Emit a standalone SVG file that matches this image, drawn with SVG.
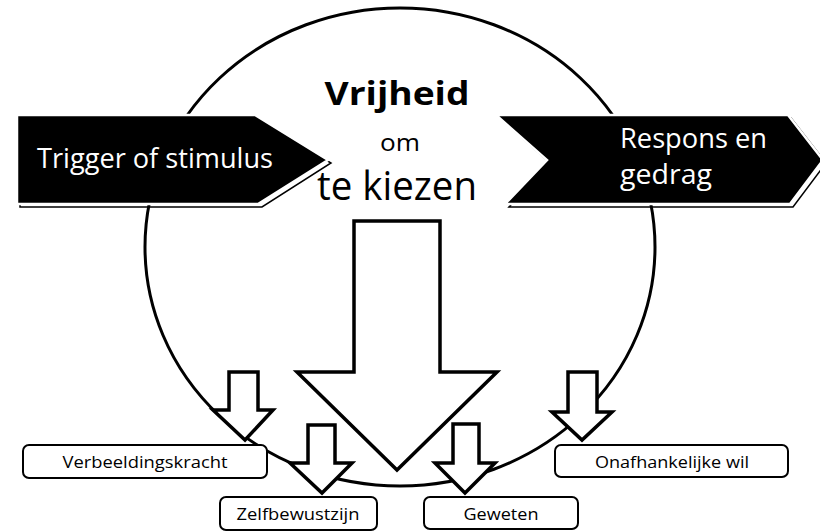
<svg xmlns="http://www.w3.org/2000/svg" width="820" height="532" viewBox="0 0 820 532">
<style>
.banner{fill:#000;stroke:#fff;stroke-width:2.5}
.shadow{fill:none;stroke:#000;stroke-width:1.5}
.btxt{font-family:"Open Sans","Liberation Sans",sans-serif;fill:#fff;font-size:27px}
.ctxt{font-family:"Open Sans","Liberation Sans",sans-serif;fill:#000;text-anchor:middle}
.arrow{fill:#fff;stroke:#000;stroke-width:3.5;stroke-linejoin:miter}
.box{fill:#fff;stroke:#000;stroke-width:2}
.ltxt{font-family:"Open Sans","Liberation Sans",sans-serif;fill:#000;font-size:17px;text-anchor:middle}
</style>
<rect width="820" height="532" fill="#fff"/>
<g id="circle">
<ellipse cx="400" cy="247" rx="255" ry="239" fill="none" stroke="#000" stroke-width="3"/>
</g>
<g id="trigger">
<polygon class="shadow" points="20,118 258,118 331,163 262,207 20,207"/>
<polygon class="banner" points="17,115 255,115 328,160 258,204 17,204"/>
<text class="btxt" x="37" y="168" textLength="236" lengthAdjust="spacingAndGlyphs">Trigger of stimulus</text>
</g>
<g id="respons">
<polygon class="shadow" points="500,118 791,118 826,163 793,207 509,207 550,163"/>
<polygon class="banner" points="496,115 788,115 823,160 790,204 505,204 547,160"/>
<text class="btxt" x="620" y="148" textLength="147" lengthAdjust="spacingAndGlyphs">Respons en</text>
<text class="btxt" x="620" y="184" textLength="92" lengthAdjust="spacingAndGlyphs">gedrag</text>
</g>
<g id="vrijheid">
<text class="ctxt" x="397" y="105" font-size="33" font-weight="bold" textLength="145" lengthAdjust="spacingAndGlyphs">Vrijheid</text>
<text class="ctxt" x="400" y="151" font-size="23" textLength="40" lengthAdjust="spacingAndGlyphs">om</text>
<text class="ctxt" x="397" y="200" font-size="40" textLength="160" lengthAdjust="spacingAndGlyphs">te kiezen</text>
</g>
<g id="big-arrow">
<polygon class="arrow" points="354,221 440,221 440,372 497,372 397,470 297,372 354,372" stroke-width="2.5"/>
</g>
<g id="connectors">
<polygon class="arrow" points="229,372 258,372 258,410 273,410 245,440 213,410 229,410"/>
<polygon class="arrow" points="308,425 335,425 335,463 352,463 322,493 290,463 308,463"/>
<polygon class="arrow" points="453,424 479,424 479,463 495,463 465,493 435,463 453,463"/>
<polygon class="arrow" points="568,372 597,372 597,412 612,412 582,440 552,412 568,412"/>
</g>
<g id="verbeeldingskracht">
<rect class="box" x="23" y="445" width="244" height="33" rx="6"/>
<text class="ltxt" x="145" y="468" textLength="165" lengthAdjust="spacingAndGlyphs">Verbeeldingskracht</text>
</g>
<g id="zelfbewustzijn">
<rect class="box" x="220" y="497" width="157" height="33" rx="6"/>
<text class="ltxt" x="298" y="520" textLength="123" lengthAdjust="spacingAndGlyphs">Zelfbewustzijn</text>
</g>
<g id="geweten">
<rect class="box" x="424" y="497" width="154" height="32" rx="6"/>
<text class="ltxt" x="501" y="520" textLength="75" lengthAdjust="spacingAndGlyphs">Geweten</text>
</g>
<g id="onafhankelijke-wil">
<rect class="box" x="555" y="445" width="233" height="32" rx="6"/>
<text class="ltxt" x="672" y="468" textLength="154" lengthAdjust="spacingAndGlyphs">Onafhankelijke wil</text>
</g>
</svg>
